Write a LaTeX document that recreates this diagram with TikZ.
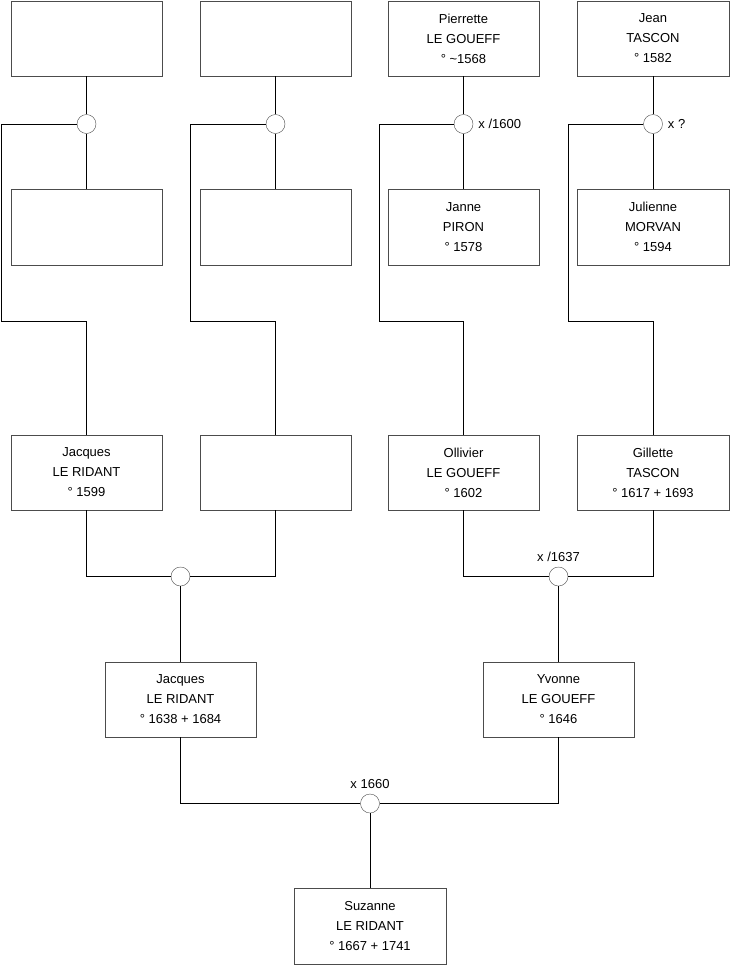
\documentclass[tikz,border=0pt]{standalone}
\usepackage{fontspec}
\setmainfont{Liberation Sans}
\usepackage{tikz}
\usetikzlibrary{positioning}

\begin{document}
\begin{tikzpicture}[
  x=1pt, y=-1pt,
  font=\fontsize{13}{20}\selectfont,
  person/.style={draw=black!70, fill=white, align=center, inner sep=0pt,
                 minimum width=151.5pt, minimum height=75.5pt},
  union/.style ={draw=black!70, fill=white, circle, inner sep=0pt, minimum size=19pt},
  lnk/.style   ={draw=black, line width=0.8pt},
  lbl/.style   ={inner sep=0pt}
]
\useasboundingbox (0,0) rectangle (740,975);
% top couples
\node[person] (gp1) at (86.5,38.5) {};
\node[person] (gp2) at (275.5,38.5) {};
\node[person] (gp3) at (463.5,38.5) {Pierrette\\LE GOUEFF\\° \textasciitilde 1568};
\node[person] (gp4) at (653,38.5) {Jean\\TASCON\\° 1582};
\node[person] (gm1) at (86.5,227) {};
\node[person] (gm2) at (275.5,227) {};
\node[person] (gm3) at (463.5,227) {Janne\\PIRON\\° 1578};
\node[person] (gm4) at (653,227) {Julienne\\MORVAN\\° 1594};
\node[union] (m1) at (86.5,124) {};
\node[union] (m2) at (275.5,124) {};
\node[union] (m3) at (463.5,124) {};
\node[union] (m4) at (653,124) {};
\node[lbl, right=5pt of m3] (l3) {x /1600};
\node[lbl, right=5pt of m4] (l4) {x ?};
% parents
\node[person] (par1) at (86.5,472.5) {Jacques\\LE RIDANT\\° 1599};
\node[person] (par2) at (275.5,472.5) {};
\node[person] (par3) at (463.5,472.5) {Ollivier\\LE GOUEFF\\° 1602};
\node[person] (par4) at (653,472.5) {Gillette\\TASCON\\° 1617 + 1693};
\coordinate (k1) at (1.5,321.5);
\coordinate (k2) at (190,321.5);
\coordinate (k3) at (379,321.5);
\coordinate (k4) at (568.5,321.5);
\draw[lnk] (gp1) -- (m1) -- (gm1);
\draw[lnk] (gp2) -- (m2) -- (gm2);
\draw[lnk] (gp3) -- (m3) -- (gm3);
\draw[lnk] (gp4) -- (m4) -- (gm4);
\draw[lnk] (m1.west) -| (k1) -| (par1.north);
\draw[lnk] (m2.west) -| (k2) -| (par2.north);
\draw[lnk] (m3.west) -| (k3) -| (par3.north);
\draw[lnk] (m4.west) -| (k4) -| (par4.north);
% children
\node[union] (u5) at (180.5,576.5) {};
\node[union] (u6) at (558.5,576.5) {};
\node[lbl, above=5pt of u6] (l6) {x /1637};
\node[person] (ch1) at (180.5,699.5) {Jacques\\LE RIDANT\\° 1638 + 1684};
\node[person] (ch2) at (558.5,699.5) {Yvonne\\LE GOUEFF\\° 1646};
\draw[lnk] (par1.south) |- (u5.west);
\draw[lnk] (par2.south) |- (u5.east);
\draw[lnk] (par3.south) |- (u6.west);
\draw[lnk] (par4.south) |- (u6.east);
\draw[lnk] (u5) -- (ch1);
\draw[lnk] (u6) -- (ch2);
% last generation
\node[union] (u7) at (370,803.5) {};
\node[lbl, above=5pt of u7] (l7) {x 1660};
\node[person] (sz) at (370,926) {Suzanne\\LE RIDANT\\° 1667 + 1741};
\draw[lnk] (ch1.south) |- (u7.west);
\draw[lnk] (ch2.south) |- (u7.east);
\draw[lnk] (u7) -- (sz);
\end{tikzpicture}
\end{document}
